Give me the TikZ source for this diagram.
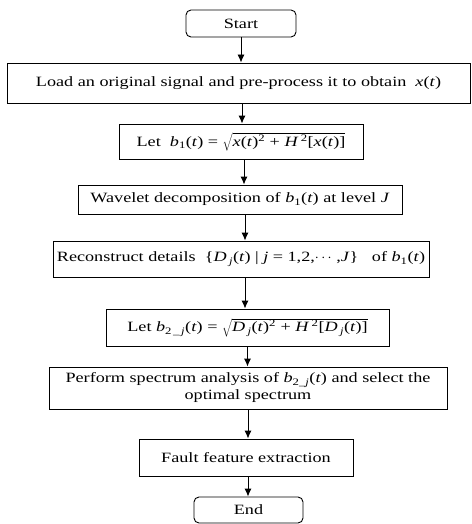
\documentclass[tikz,border=0pt]{standalone}
\usepackage{fontspec}
\setmainfont{Liberation Serif}[FakeStretch=1.28]
\usetikzlibrary{arrows.meta}
\newcommand{\vi}[1]{\textit{#1}}
\newcommand{\sub}[1]{\textsubscript{#1}}
\newcommand{\sups}[1]{\textsuperscript{#1}}
\begin{document}
\begin{tikzpicture}[x=1pt,y=1pt,
  box/.style={draw,line width=0.9pt,inner sep=0pt,align=center,font=\fontsize{14.2}{17}\selectfont},
  term/.style={box,rounded corners=5pt},
  arr/.style={line width=0.9pt,-{Latex[length=8pt,width=7pt]}}]
\useasboundingbox (0,0) rectangle (471,-524);
\node[term,minimum width=110,minimum height=27] (start) at (241,-23.5) {Start};
\node[box,minimum width=463,minimum height=40] (load) at (238.5,-83)
  {Load an original signal and pre-process it to obtain\ \ \vi{x}(\vi{t})};
\node[box,minimum width=244,minimum height=35] (let1) at (241,-141.5)
  {Let\ \ \vi{b}\sub{1}(\vi{t}) = $\sqrt{\hbox{\vi{x}(\vi{t})\sups{2} + \vi{H}\,\sups{2}[\vi{x}(\vi{t})]}}$};
\node[box,minimum width=324,minimum height=29] (wave) at (240,-199.5)
  {Wavelet decomposition of \vi{b}\sub{1}(\vi{t}) at level \vi{J}};
\node[box,minimum width=376,minimum height=36] (recon) at (241,-259)
  {Reconstruct details\ \ \{\vi{D}\,\sub{\vi{j}}(\vi{t}) | \vi{j} = 1,2,$\cdots$ ,\vi{J}\}\ \ \ of \vi{b}\sub{1}(\vi{t})};
\node[box,minimum width=283,minimum height=37] (let2) at (247.5,-327.5)
  {Let \vi{b}\sub{2\,\_\,\vi{j}}(\vi{t}) = $\sqrt{\hbox{\vi{D}\,\sub{\vi{j}}(\vi{t})\sups{2} + \vi{H}\,\sups{2}[\vi{D}\,\sub{\vi{j}}(\vi{t})]}}$};
\node[box,minimum width=398,minimum height=42] (perf) at (248,-388)
  {Perform spectrum analysis of \vi{b}\sub{2\_\vi{j}}(\vi{t}) and select the\\optimal spectrum};
\node[box,minimum width=214,minimum height=37] (fault) at (246,-457.5) {Fault feature extraction};
\node[term,minimum width=109,minimum height=26] (end) at (248.5,-510) {End};
\draw[arr] (start.south) -- (start.south |- load.north);
\draw[arr] ([xshift=1pt]load.south -| let1.south) -- ([xshift=1pt]let1.north);
\draw[arr] ([xshift=3pt]let1.south) -- ([xshift=3pt]let1.south |- wave.north);
\draw[arr] ([xshift=4pt]recon.north |- wave.south) -- ([xshift=4pt]recon.north);
\draw[arr] ([xshift=4pt]recon.south) -- ([xshift=4pt]recon.south |- let2.north);
\draw[arr] (let2.south) -- (let2.south |- perf.north);
\draw[arr] (perf.south) -- (perf.south |- fault.north);
\draw[arr] (perf.south |- fault.south) -- (perf.south |- end.north);
\end{tikzpicture}
\end{document}
